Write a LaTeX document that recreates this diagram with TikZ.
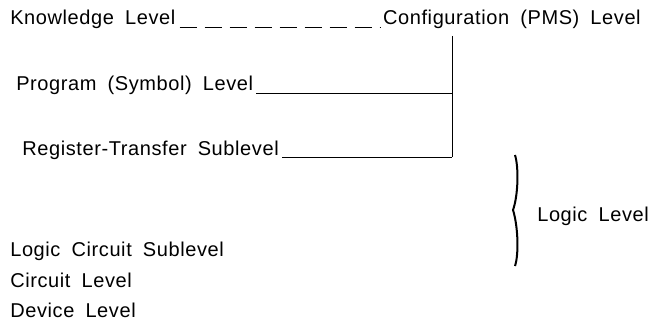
\documentclass[tikz,border=0pt]{standalone}
\usepackage{fontspec}
\setmainfont[LetterSpace=3,WordSpace=1.8]{Liberation Sans}
\usetikzlibrary{positioning}

\begin{document}
\begin{tikzpicture}[x=1pt, y=-1pt, semithick,
      lvl/.style={anchor=base west, inner sep=0pt, font=\fontsize{20}{24}\selectfont},
      joint/.style={line width=0.9pt}]
      \useasboundingbox (0,0) rectangle (655,326);
      % top row;
      \node[lvl] (know) at(10,25) {Knowledge Level};
      \node[lvl, anchor=base east] (conf) at(641,25) {Configuration (PMS) Level};
      \draw[dash pattern=on 17pt off 8pt] ([xshift=4pt,yshift=-2pt]know.base east) -- ([xshift=-2pt,yshift=-2pt]conf.base west);
      % program and register-transfer;
      \node[lvl] (prog) at(16,91) {Program (Symbol) Level};
      \node[lvl] (rt) at(22,155) {Register-Transfer Sublevel};
      \coordinate (ctop) at(452,36);
      \coordinate (pj) at(452,93);
      \coordinate (rj) at(452,157);
      \draw[joint] (ctop) -- (rj);
      \draw[joint] ([xshift=3pt]prog.base east |- pj) -- (pj);
      \draw[joint] ([xshift=3pt]rt.base east |- rj) -- (rj);
      % logic level;
      \coordinate (btop) at(515,155);
      \coordinate (bmid) at(513,210);
      \coordinate (bbot) at(515,266);
      \draw[line width=2pt] (btop) .. controls (519,168) and (518,196) .. (bmid)
            .. controls (518,226) and (519,254) .. (bbot);
      \node[lvl] (logic) at(537,221) {Logic Level};
      % lower levels;
      \node[lvl] (lcs) at(10,256) {Logic Circuit Sublevel};
      \node[lvl] (circ) at(10,287) {Circuit Level};
      \node[lvl] (dev) at(10,317) {Device Level};
\end{tikzpicture}
\end{document}
